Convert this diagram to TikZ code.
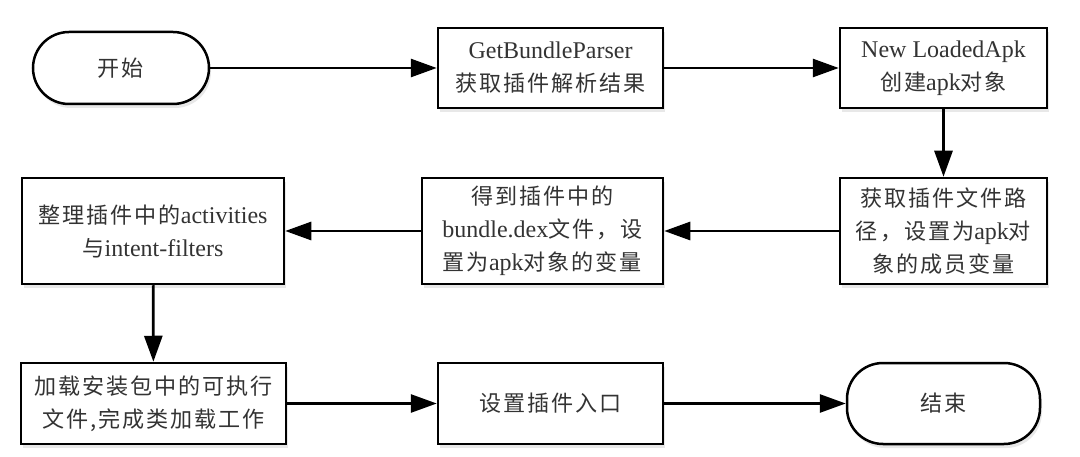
\documentclass[tikz,border=0pt]{standalone}
\usepackage{fontspec}
\setmainfont{Liberation Serif}
\newfontfamily\cjk[Scale=0.92,LetterSpace=9]{Noto Sans CJK SC}
\usetikzlibrary{arrows.meta,shadows}
\begin{document}
\begin{tikzpicture}[x=1pt,y=-1pt,
  base/.style={draw=black, line width=2.5pt, fill=white, inner sep=0pt, align=center,
    font=\fontsize{24}{33}\selectfont, text=black!80,
    drop shadow={opacity=0.18, shadow xshift=2pt, shadow yshift=-4pt}},
  stepbox/.style={base, rectangle},
  term/.style={base, rectangle, rounded corners=36pt},
  conn/.style={line width=2.8pt, -{Triangle[length=26pt,width=18pt]}}]
\useasboundingbox (0,0) rectangle (1080,457);
\node[term, minimum width=176pt, minimum height=72pt] (s) at (121,68) {\cjk 开始};
\node[stepbox, minimum width=225pt, minimum height=80pt] (b2) at (550.5,68)
  {GetBundleParser\\{\cjk 获取插件解析结果}};
\node[stepbox, minimum width=207pt, minimum height=80pt] (b3) at (943.5,68)
  {New LoadedApk\\{\cjk 创建}apk{\cjk 对象}};
\node[stepbox, minimum width=207pt, minimum height=106pt] (b4) at (943.5,231)
  {{\cjk 获取插件文件路}\\{\cjk 径，设置为}apk{\cjk 对}\\{\cjk 象的成员变量}};
\node[stepbox, minimum width=241pt, minimum height=106pt] (b5) at (542.5,231)
  {{\cjk 得到插件中的}\\bundle.dex{\cjk 文件，设}\\{\cjk 置为}apk{\cjk 对象的变量}};
\node[stepbox, minimum width=262pt, minimum height=106pt] (b6) at (153,231)
  {{\cjk 整理插件中的}activities\\{\cjk 与}intent-filters};
\node[stepbox, minimum width=265pt, minimum height=81pt] (b7) at (153.5,403.5)
  {{\cjk 加载安装包中的可执行}\\{\cjk 文件,完成类加载工作}};
\node[stepbox, minimum width=225pt, minimum height=81pt] (b8) at (550.5,403.5)
  {\cjk 设置插件入口};
\node[term, minimum width=193pt, minimum height=81pt] (e) at (943.5,403.5) {\cjk 结束};
\draw[conn] (s) -- (b2);
\draw[conn] (b2) -- (b3);
\draw[conn] (b3) -- (b4);
\draw[conn] (b4) -- (b5);
\draw[conn] (b5) -- (b6);
\draw[conn] (b6) -- (b7);
\draw[conn] (b7) -- (b8);
\draw[conn] (b8) -- (e);
\end{tikzpicture}
\end{document}
